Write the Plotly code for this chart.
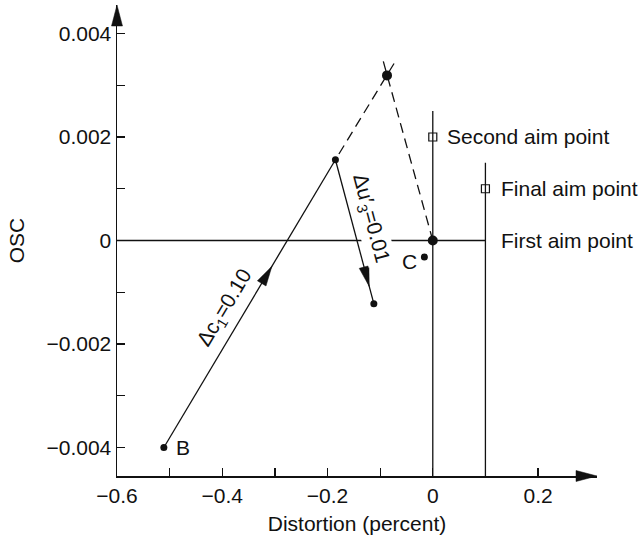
import plotly.graph_objects as go

# ---------------- data ----------------
x_range = [-0.6, 0.312]
y_range = [-0.00455, 0.00455]

x_tickvals = [-0.6, -0.5, -0.4, -0.3, -0.2, -0.1, 0.0, 0.1, 0.2]
x_ticktext = ["\u22120.6", "", "\u22120.4", "", "\u22120.2", "", "0", "", "0.2"]
y_tickvals = [-0.004, -0.003, -0.002, -0.001, 0.0, 0.001, 0.002, 0.003, 0.004]
y_ticktext = ["\u22120.004", "", "\u22120.002", "", "0", "", "0.002", "", "0.004"]

# points
B = (-0.511, -0.0040)          # start point B
P = (-0.185, 0.00156)          # after delta c1
D = (-0.112, -0.00122)         # after delta u'3
T = (-0.087, 0.00319)          # extrapolated point
O = (0.0, 0.0)                 # reached point
C = (-0.016, -0.00032)         # point C

# dashed extension ends (beyond T)
dash1_end = (-0.0736, 0.00342)
dash2_end = (-0.094, 0.00346)

# aim points
second_aim = (0.0, 0.0020)
final_aim = (0.1, 0.0010)
first_aim = (0.1, 0.0)

# aim lines
first_line_x = [-0.6, 0.1]
first_line_y = [0.0, 0.0]
vline0_x = 0.0
vline0_top = 0.0025
vline1_x = 0.1
vline1_top = 0.0015

# ---------------- layout geometry ----------------
W, H = 640, 542
ML, MR, MT, MB = 117, 43, 5, 66
PW, PH = W - ML - MR, H - MT - MB
FONT = "Liberation Sans, Arial, Helvetica, sans-serif"
FS = 21
INK = "#111111"


def to_paper(x, y):
    return ((x - x_range[0]) / (x_range[1] - x_range[0]),
            (y - y_range[0]) / (y_range[1] - y_range[0]))


def arrow_head(tip, direction_from, length=20, width=9):
    """filled triangle (paper coords) with tip at `tip`, pointing away from `direction_from`."""
    tx, ty = to_paper(*tip)
    fx, fy = to_paper(*direction_from)
    dxp, dyp = (tx - fx) * PW, (ty - fy) * PH
    n = (dxp ** 2 + dyp ** 2) ** 0.5
    ux, uy = dxp / n, dyp / n
    bx, by = tx * PW - ux * length, ty * PH - uy * length
    px, py = -uy * width / 2, ux * width / 2
    pts = [(tx * PW, ty * PH), (bx + px, by + py), (bx - px, by - py)]
    path = "M " + " L ".join(f"{a / PW:.6f},{b / PH:.6f}" for a, b in pts) + " Z"
    return dict(type="path", xref="paper", yref="paper", path=path,
                fillcolor=INK, line=dict(color=INK, width=0.5), layer="above")


def lerp(a, b, t):
    return (a[0] + (b[0] - a[0]) * t, a[1] + (b[1] - a[1]) * t)


fig = go.Figure()

line_style = dict(color=INK, width=1.3)

fig.add_trace(go.Scatter(x=first_line_x, y=first_line_y, mode="lines", line=line_style,
                         hoverinfo="skip"))
fig.add_trace(go.Scatter(x=[vline0_x, vline0_x], y=[vline0_top, y_range[0]], mode="lines",
                         line=line_style, hoverinfo="skip"))
fig.add_trace(go.Scatter(x=[vline1_x, vline1_x], y=[vline1_top, y_range[0]], mode="lines",
                         line=line_style, hoverinfo="skip"))

fig.add_trace(go.Scatter(x=[B[0], P[0]], y=[B[1], P[1]], mode="lines", line=line_style,
                         hoverinfo="skip"))
fig.add_trace(go.Scatter(x=[P[0], D[0]], y=[P[1], D[1]], mode="lines", line=line_style,
                         hoverinfo="skip"))

# dashed lines drawn from the outer (X) ends so the pattern starts with a dash there
dash_style = dict(color=INK, width=1.3, dash="10px,6px")
fig.add_trace(go.Scatter(x=[dash1_end[0], P[0]], y=[dash1_end[1], P[1]], mode="lines",
                         line=dash_style, hoverinfo="skip"))
fig.add_trace(go.Scatter(x=[dash2_end[0], O[0]], y=[dash2_end[1], O[1]], mode="lines",
                         line=dash_style, hoverinfo="skip"))

fig.add_trace(go.Scatter(x=[B[0], P[0], D[0], C[0]], y=[B[1], P[1], D[1], C[1]],
                         mode="markers", marker=dict(size=7, color=INK), hoverinfo="skip"))
fig.add_trace(go.Scatter(x=[T[0], O[0]], y=[T[1], O[1]], mode="markers",
                         marker=dict(size=10, color=INK), hoverinfo="skip"))
fig.add_trace(go.Scatter(x=[second_aim[0], final_aim[0]], y=[second_aim[1], final_aim[1]],
                         mode="markers",
                         marker=dict(symbol="square-open", size=8, color=INK,
                                     line=dict(width=1.2, color=INK)),
                         hoverinfo="skip"))

shapes = [
    arrow_head((x_range[1], y_range[0]), (x_range[0], y_range[0]), length=21, width=11),
    arrow_head((x_range[0], y_range[1]), (x_range[0], y_range[0]), length=21, width=11),
    arrow_head(lerp(B, P, 0.63), B, length=20, width=10),
    arrow_head(lerp(P, D, 0.88), P, length=20, width=10),
]

annotations = [
    dict(x=-0.395, y=-0.00130, text="\u0394c<sub>1</sub>=0.10", textangle=-59,
         showarrow=False, xanchor="center", yanchor="middle"),
    dict(x=-0.1177, y=0.00042, text="\u0394u\u2032<sub>3</sub>=0.01", textangle=75,
         showarrow=False, xanchor="center", yanchor="middle", bgcolor="white"),
    dict(x=B[0], y=B[1], text="B", showarrow=False, xanchor="left", yanchor="middle",
         xshift=10),
    dict(x=C[0], y=C[1], text="C", showarrow=False, xanchor="right", yanchor="middle",
         xshift=-5, yshift=-4),
    dict(x=second_aim[0], y=second_aim[1], text="Second aim point", showarrow=False,
         xanchor="left", yanchor="middle", xshift=12),
    dict(x=final_aim[0], y=final_aim[1], text="Final aim point", showarrow=False,
         xanchor="left", yanchor="middle", xshift=14),
    dict(x=first_aim[0], y=first_aim[1], text="First aim point", showarrow=False,
         xanchor="left", yanchor="middle", xshift=14),
]
for a in annotations:
    a["font"] = dict(family=FONT, size=FS, color=INK)

tick_font = dict(family=FONT, size=FS, color=INK)
title_font = dict(family=FONT, size=FS, color=INK)

fig.update_layout(
    width=W, height=H,
    margin=dict(l=ML, r=MR, t=MT, b=MB, autoexpand=False),
    paper_bgcolor="white", plot_bgcolor="white",
    showlegend=False,
    hovermode=False,
    font=dict(family=FONT, size=FS, color=INK),
    shapes=shapes,
    annotations=annotations,
    xaxis=dict(range=x_range, showgrid=False, zeroline=False, showline=True,
               linecolor=INK, linewidth=1.5, ticks="inside", ticklen=8, tickwidth=1.3,
               tickcolor=INK, tickvals=x_tickvals, ticktext=x_ticktext, tickfont=tick_font,
               title=dict(text="Distortion (percent)", standoff=10, font=title_font)),
    yaxis=dict(range=y_range, showgrid=False, zeroline=False, showline=True,
               linecolor=INK, linewidth=1.5, ticks="inside", ticklen=8, tickwidth=1.3,
               tickcolor=INK, tickvals=y_tickvals, ticktext=y_ticktext, tickfont=tick_font,
               title=dict(text="OSC", standoff=16, font=title_font)),
)

fig.write_html("out.html",
               config={"displayModeBar": False, "staticPlot": True},
               post_script="document.body.style.margin='0';document.body.style.padding='0';")
